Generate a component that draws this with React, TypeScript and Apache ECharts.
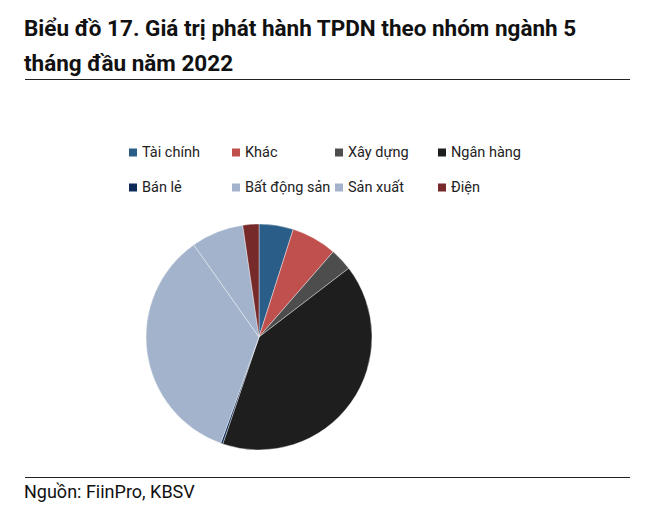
import React, { useEffect, useRef } from "react";
import * as echarts from "echarts";

const categories = ["Tài chính", "Khác", "Xây dựng", "Ngân hàng", "Bán lẻ", "Bất động sản", "Sản xuất", "Điện"];
const values = [4.9, 6.5, 3.2, 40.6, 0.3, 34.7, 7.5, 2.3];
const colors = ["#2B5D89", "#C0504D", "#4D4D4D", "#1E1E1E", "#0E2B58", "#A3B3CC", "#A3B3CC", "#762A2A"];

const FONT = "Roboto";

export default function App() {
  const ref = useRef<HTMLDivElement>(null);
  useEffect(() => {
    document.body.style.margin = "0";
    const chart = echarts.init(ref.current!, null, { renderer: "svg" });
    const colX = [127, 230, 333, 436];
    const rowY = [145, 180];
    const legends = categories.map((name, i) => ({
      orient: "horizontal" as const,
      left: colX[i % 4],
      top: rowY[Math.floor(i / 4)],
      padding: 0,
      itemWidth: 10,
      itemHeight: 10,
      icon: "rect",
      selectedMode: false,
      data: [name],
      textStyle: { fontFamily: FONT, fontSize: 14.5, color: "#222", padding: [0, 0, 0, -1] },
    }));
    chart.setOption({
      animation: false,
      backgroundColor: "#fff",
      title: {
        text: "Biểu đồ 17. Giá trị phát hành TPDN theo nhóm ngành 5\ntháng đầu năm 2022",
        left: 24,
        top: 10,
        padding: 0,
        textStyle: { fontFamily: FONT, fontSize: 22.5, fontWeight: "bold", color: "#111", lineHeight: 35 },
      },
      legend: legends,
      graphic: [
        { type: "line", shape: { x1: 25, y1: 79.5, x2: 630, y2: 79.5 }, style: { stroke: "#222", lineWidth: 1 } },
        { type: "line", shape: { x1: 25, y1: 477.5, x2: 630, y2: 477.5 }, style: { stroke: "#222", lineWidth: 1 } },
        {
          type: "text",
          left: 24,
          top: 482,
          style: { text: "Nguồn: FiinPro, KBSV", fontFamily: FONT, fontSize: 18, fill: "#111" },
        },
      ],
      series: [
        {
          type: "pie",
          center: [259, 337],
          radius: 113,
          startAngle: 90,
          clockwise: true,
          label: { show: false },
          labelLine: { show: false },
          emphasis: { disabled: true },
          itemStyle: { borderColor: "#fff", borderWidth: 0.4 },
          data: categories.map((name, i) => ({ name, value: values[i], itemStyle: { color: colors[i] } })),
        },
      ],
    });
    return () => chart.dispose();
  }, []);
  return <div ref={ref} style={{ width: 662, height: 513 }} />;
}
